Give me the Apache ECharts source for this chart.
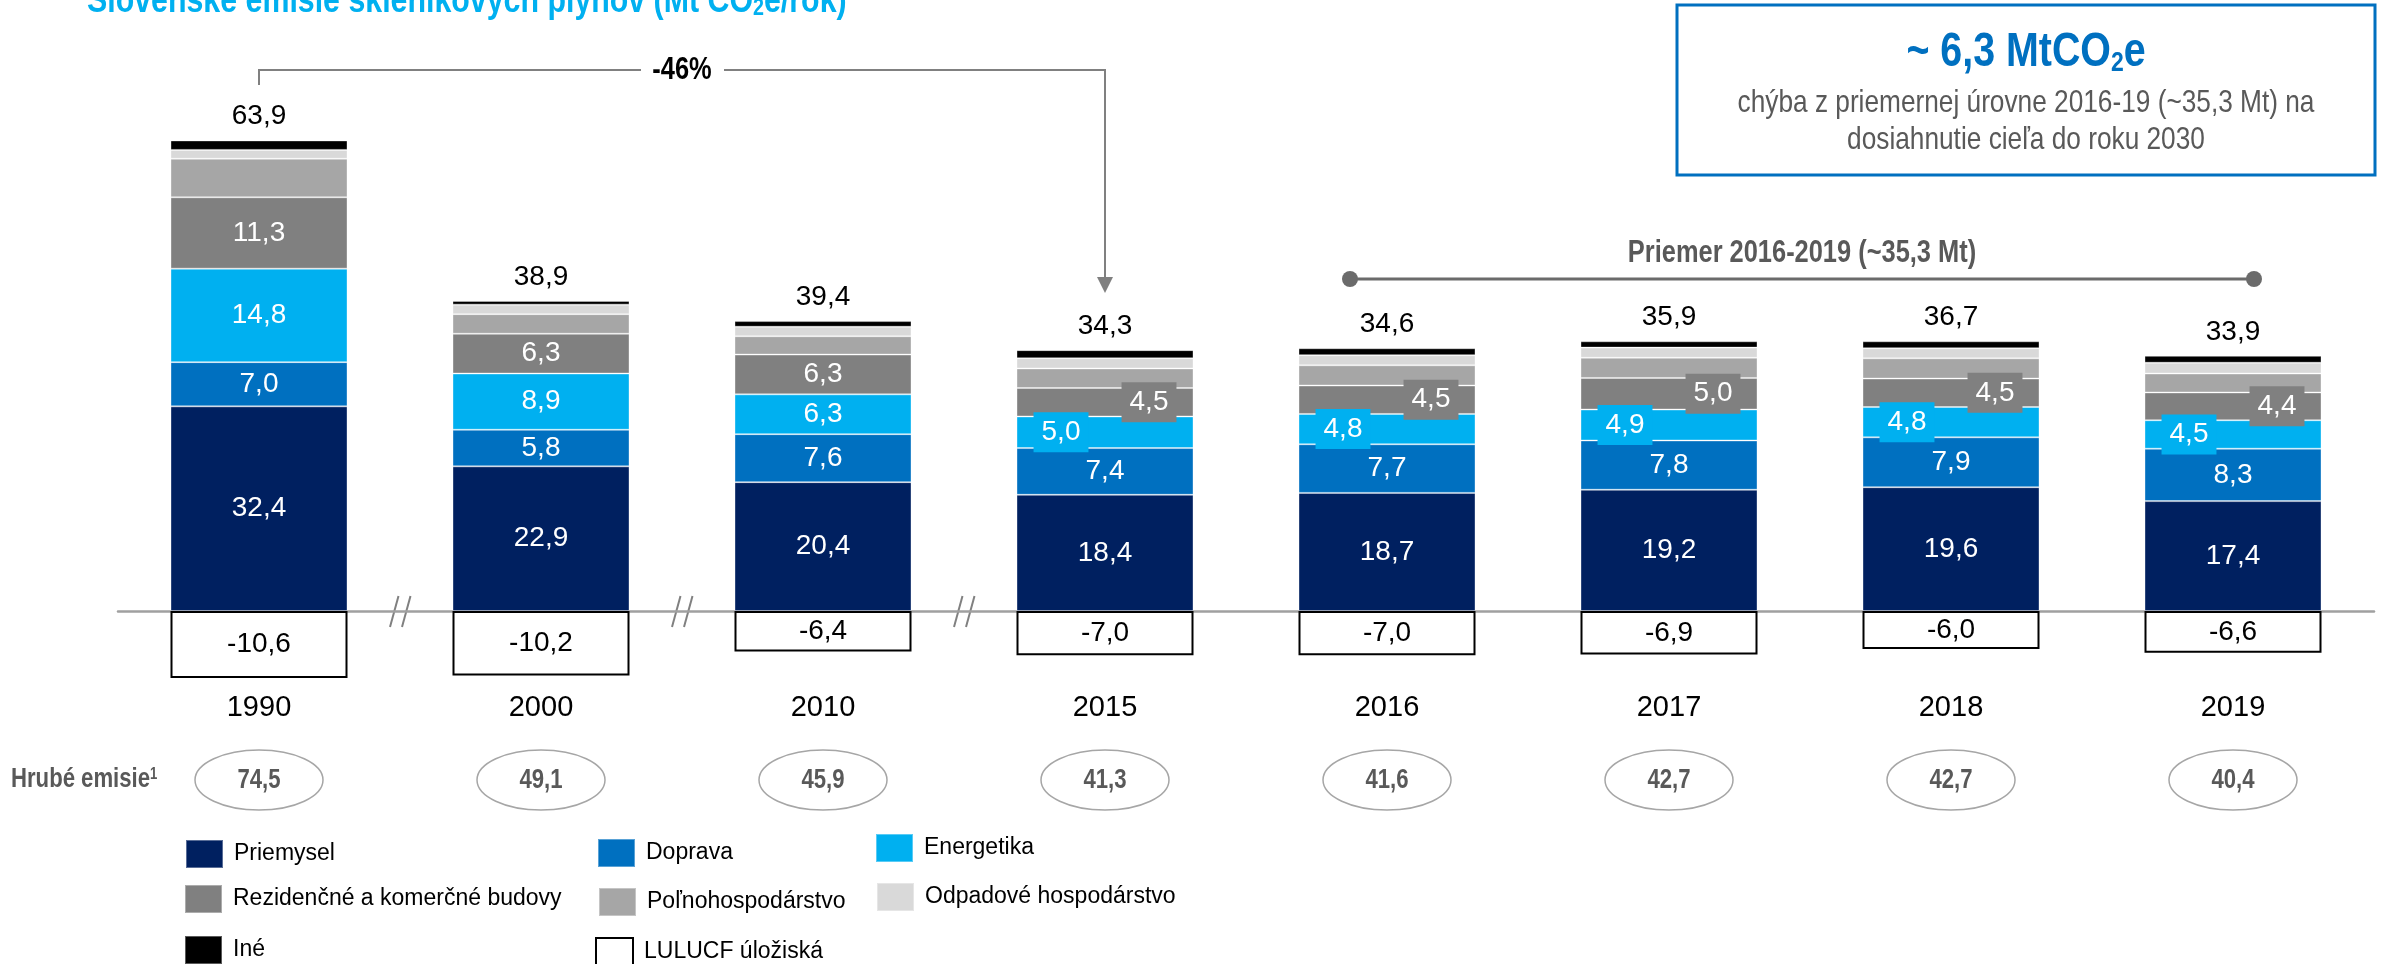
<!DOCTYPE html>
<html>
<head>
<meta charset="utf-8">
<script src="https://cdn.jsdelivr.net/npm/echarts@6/dist/echarts.min.js"></script>
<style>html,body{margin:0;padding:0;background:#fff}#chart{width:2382px;height:964px}</style>
</head>
<body>
<div id="chart"></div>
<script>
// roky
var years = ['1990', '2000', '2010', '2015', '2016', '2017', '2018', '2019'];
// emisie podla sektorov (Mt CO2e)
var priemysel = [32.4, 22.9, 20.4, 18.4, 18.7, 19.2, 19.6, 17.4];
var doprava = [7.0, 5.8, 7.6, 7.4, 7.7, 7.8, 7.9, 8.3];
var energetika = [14.8, 8.9, 6.3, 5.0, 4.8, 4.9, 4.8, 4.5];
var budovy = [11.3, 6.3, 6.3, 4.5, 4.5, 5.0, 4.5, 4.4];
var polnohosp = [6.1, 3.1, 2.9, 3.1, 3.2, 3.2, 3.2, 3.0];
var odpad = [1.4, 1.5, 1.5, 1.6, 1.6, 1.6, 1.6, 1.7];
var ine = [1.5, 0.6, 0.9, 1.3, 1.1, 1.0, 1.1, 1.1];
var lulucf = [-10.6, -10.2, -6.4, -7.0, -7.0, -6.9, -6.0, -6.6];
// netto nad stlpcom, hrube emisie v elipsach
var netto = [63.9, 38.9, 39.4, 34.3, 34.6, 35.9, 36.7, 33.9];
var hrube = [74.5, 49.1, 45.9, 41.3, 41.6, 42.7, 42.7, 40.4];

var FONT = '"Liberation Sans",Arial,sans-serif';
var NARROW = 0.82; // uzsie pismo ako v predlohe

function fmt(v) {
	return v.toFixed(1).replace('.', ',');
}

// od roku 2015 su popisky posunute nabok a maju podklad
function posunute(vals, color, dx) {
	return vals.map(function (v, i) {
		if (i < 3) return v;
		return {value: v, label: {offset: [dx, 0], backgroundColor: color, padding: [7, 8, 5, 8]}};
	});
}

var inLabel = {show: true, position: 'inside', color: '#fff', fontSize: 28, fontFamily: FONT,
	formatter: function (p) { return fmt(p.value); }};

function bar(name, data, color, label) {
	return {
		name: name, type: 'bar', stack: 'spolu', barWidth: 177, data: data,
		itemStyle: {color: color, borderColor: 'rgba(255,255,255,0.35)', borderWidth: 1},
		label: label || {show: false},
		emphasis: {disabled: true}
	};
}

var series = [
	bar('Priemysel', priemysel, '#002060', inLabel),
	bar('Doprava', doprava, '#0070C0', inLabel),
	bar('Energetika', posunute(energetika, '#00B0F0', -44), '#00B0F0', inLabel),
	bar('Rezidenčné a komerčné budovy', posunute(budovy, '#808080', 44), '#808080', inLabel),
	bar('Poľnohospodárstvo', polnohosp, '#A6A6A6'),
	bar('Odpadové hospodárstvo', odpad, '#D9D9D9'),
	bar('Iné', ine, '#000000', {show: true, position: 'top', distance: 10, color: '#000', fontSize: 28,
		fontFamily: FONT, formatter: function (p) { return fmt(netto[p.dataIndex]); }}),
	bar('LULUCF úložiská', lulucf, '#ffffff', {show: true, position: 'inside', color: '#000', fontSize: 28,
		fontFamily: FONT, formatter: function (p) { return fmt(p.value); }})
];
series[7].itemStyle = {color: '#fff', borderColor: '#000', borderWidth: 2};

// legenda v troch stlpcoch
var legendPos = [[185, 839], [597, 838], [875, 833], [184, 884], [598, 887], [876, 882], [184, 935], [595, 937]];
var legends = series.map(function (s, i) {
	return {
		data: [s.name], left: legendPos[i][0], top: legendPos[i][1], padding: 0,
		icon: 'rect', itemWidth: 37, itemHeight: 28, selectedMode: false,
		textStyle: {fontSize: 23, fontFamily: FONT, color: '#000', padding: [0, 0, 0, 6]}
	};
});

var option = {
	animation: false,
	backgroundColor: '#fff',
	grid: {left: 118, right: 8, top: 105.7, height: 574.8},
	xAxis: {
		type: 'category', data: years,
		axisLine: {onZero: true, lineStyle: {color: '#a0a0a0', width: 2.5}},
		axisTick: {show: false},
		axisLabel: {margin: 13, fontSize: 29, color: '#000', fontFamily: FONT}
	},
	yAxis: {type: 'value', min: -11, max: 80, show: false, splitLine: {show: false}},
	legend: legends,
	series: series
};

var chart = echarts.init(document.getElementById('chart'));
chart.setOption(option);

function px(i, v) {
	return chart.convertToPixel({seriesIndex: 0}, [i, v]);
}

var g = [];
var gray = '#808080';
var yb = px(0, 0)[1];

// nadpis (horna cast odrezana)
g.push({type: 'text', x: 87, y: 20, scaleX: NARROW, style: {
	text: '{a|Slovenské emisie skleníkových plynov (Mt CO}{s|2}{a|e/rok)}',
	verticalAlign: 'bottom',
	rich: {a: {font: 'bold 37px ' + FONT, fill: '#00B0F0'}, s: {font: 'bold 24px ' + FONT, fill: '#00B0F0', verticalAlign: 'bottom'}}
}});

// ramik vpravo hore
g.push({type: 'rect', shape: {x: 1677, y: 5, width: 698, height: 170}, style: {fill: '#fff', stroke: '#0070C0', lineWidth: 3}});
g.push({type: 'text', x: 2026, y: 53, scaleX: NARROW, style: {
	text: '{a|~ 6,3 MtCO}{s|2}{a|e}', align: 'center', verticalAlign: 'middle',
	rich: {a: {font: 'bold 48px ' + FONT, fill: '#0070C0'}, s: {font: 'bold 28px ' + FONT, fill: '#0070C0', verticalAlign: 'bottom'}}
}});
g.push({type: 'text', x: 2026, y: 103, scaleX: NARROW, style: {text: 'chýba z priemernej úrovne 2016-19 (~35,3 Mt) na',
	align: 'center', verticalAlign: 'middle', font: '32px ' + FONT, fill: '#595959'}});
g.push({type: 'text', x: 2026, y: 140, scaleX: NARROW, style: {text: 'dosiahnutie cieľa do roku 2030',
	align: 'center', verticalAlign: 'middle', font: '32px ' + FONT, fill: '#595959'}});

// -46 % od 1990 po 2015
var x0 = px(0, 0)[0], x3 = px(3, 0)[0], xm = (x0 + x3) / 2;
g.push({type: 'polyline', shape: {points: [[x0, 85], [x0, 70], [xm - 41, 70]]}, style: {stroke: gray, lineWidth: 2, fill: null}});
g.push({type: 'polyline', shape: {points: [[xm + 42, 70], [x3, 70], [x3, 279]]}, style: {stroke: gray, lineWidth: 2, fill: null}});
g.push({type: 'polygon', shape: {points: [[x3 - 8, 277], [x3 + 8, 277], [x3, 293]]}, style: {fill: gray}});
g.push({type: 'text', x: xm, y: 70, scaleX: NARROW, style: {text: '-46%', align: 'center', verticalAlign: 'middle',
	font: 'bold 31px ' + FONT, fill: '#000'}});

// priemer 2016-2019
var pa = px(4, 0)[0] - 37, pb = px(7, 0)[0] + 21;
g.push({type: 'line', shape: {x1: pa, y1: 279, x2: pb, y2: 279}, style: {stroke: '#6b6b6b', lineWidth: 3}});
g.push({type: 'circle', shape: {cx: pa, cy: 279, r: 8}, style: {fill: '#6b6b6b'}});
g.push({type: 'circle', shape: {cx: pb, cy: 279, r: 8}, style: {fill: '#6b6b6b'}});
g.push({type: 'text', x: (pa + pb) / 2, y: 253, scaleX: NARROW, style: {text: 'Priemer 2016-2019 (~35,3 Mt)', align: 'center',
	verticalAlign: 'middle', font: 'bold 31px ' + FONT, fill: '#595959'}});

// prerusenia osi
for (var i = 0; i < 3; i++) {
	var mid = (px(i, 0)[0] + px(i + 1, 0)[0]) / 2;
	g.push({type: 'line', shape: {x1: mid - 10, y1: yb + 16, x2: mid - 1.5, y2: yb - 15}, style: {stroke: gray, lineWidth: 2}});
	g.push({type: 'line', shape: {x1: mid + 2, y1: yb + 16, x2: mid + 10.5, y2: yb - 15}, style: {stroke: gray, lineWidth: 2}});
}

// hrube emisie
g.push({type: 'text', x: 11, y: 780, scaleX: NARROW, style: {
	text: '{a|Hrubé emisie}{s|1}', verticalAlign: 'middle',
	rich: {a: {font: 'bold 27px ' + FONT, fill: '#595959'}, s: {font: 'bold 16px ' + FONT, fill: '#595959', verticalAlign: 'top'}}
}});
hrube.forEach(function (v, i) {
	var cx = px(i, 0)[0];
	g.push({type: 'ellipse', shape: {cx: cx, cy: 780, rx: 64, ry: 30}, style: {fill: '#fff', stroke: '#a6a6a6', lineWidth: 1.5}});
	g.push({type: 'text', x: cx, y: 781, scaleX: NARROW, style: {text: fmt(v), align: 'center', verticalAlign: 'middle',
		font: 'bold 27px ' + FONT, fill: '#595959'}});
});

chart.setOption({graphic: g});
</script>
</body>
</html>
